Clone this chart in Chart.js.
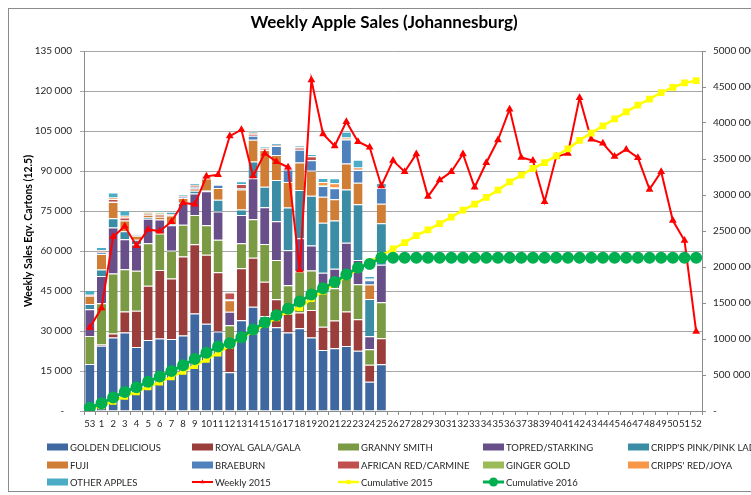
<!DOCTYPE html>
<html>
<head>
<meta charset="utf-8">
<script src="https://cdn.jsdelivr.net/npm/chart.js@4.4.1/dist/chart.umd.min.js"></script>
<style>
  html, body { margin: 0; padding: 0; background: #fff; }
</style>
</head>
<body>
<canvas id="salesChart" width="751" height="495"></canvas>
<script>
const weeks = ['53','1','2','3','4','5','6','7','8','9','10','11','12','13','14','15','16','17','18','19','20',
  '21','22','23','24','25','26','27','28','29','30','31','32','33','34','35','36','37','38','39','40',
  '41','42','43','44','45','46','47','48','49','50','51','52'];

// 2016 weekly sales by cultivar (weeks 53, 1..25)
const goldenDelicious = [17600,24500,27600,29400,24000,26600,27200,27000,28300,36600,32700,29800,14500,34000,39100,35600,31400,29400,31000,27600,22900,23500,24400,22600,11000,17500];
const royalGala = [0,400,1500,7900,13600,20400,25700,22700,29600,25900,25900,22200,12100,19500,18400,12900,10500,7200,5900,10300,8700,10400,12900,11800,6300,9800];
const grannySmith = [10500,15500,22500,15900,15000,15900,13700,10400,11900,11000,11100,12200,5600,9400,14400,14100,14700,10600,15400,14800,13500,12100,13700,13100,5900,13500];
const topred = [10100,10200,17200,11200,9800,9200,5200,9600,8100,8100,12700,10600,5000,10600,15400,13800,14600,13100,12500,9400,6700,7300,12100,9100,4800,14000];
const pinkLady = [1900,2500,3500,3000,1800,500,0,300,500,1000,300,4400,0,2100,6300,7700,15400,16000,18100,18600,18800,18100,20000,20900,14000,15600];
const fuji = [3100,5800,6100,4000,1500,1000,1000,3300,1500,800,4500,4400,4300,7500,8100,13800,9400,9600,10300,9400,9700,8000,9700,8100,5400,7300];
const braeburn = [0,500,100,0,0,0,0,200,300,600,300,1200,500,300,1500,0,3400,4700,4800,3900,4100,4100,9000,4800,1600,5900];
const africanRed = [200,700,1000,1200,200,300,900,200,300,400,0,0,2400,1700,800,300,300,300,800,1500,0,0,300,300,300,0];
const gingerGold = [0,0,0,0,0,300,700,0,0,0,0,0,0,0,0,0,0,0,0,0,300,300,0,0,0,0];
const crippsRed = [200,200,600,600,0,300,200,200,200,300,300,0,300,0,300,300,0,0,300,0,1200,1600,500,600,300,300];
const otherApples = [1800,1200,1800,2100,300,300,400,800,600,700,300,0,300,1100,800,600,600,600,600,900,1500,1900,2100,2900,1000,1600];

const weekly2015 = [31300,38600,65300,69300,62000,68100,67400,71000,78100,77500,88000,88600,103100,105500,88100,96600,93500,91400,52900,124100,
  103900,99400,108500,101000,98900,84400,93900,89700,96400,80400,86600,89700,96400,83900,93100,101600,113200,95100,93900,78500,
  95400,96600,117500,101900,100400,95400,98100,95000,83100,89700,71400,63900,29800];
const cumulative2015 = [31300,69900,135200,204500,266500,334600,402000,473000,551100,628600,716600,805200,908300,1013800,1101900,1198500,1292000,1383400,1436300,1560400,
  1664300,1763700,1872200,1973200,2072100,2156500,2250400,2340100,2436500,2516900,2603500,2693200,2789600,2873500,2966600,3068200,3181400,3276500,3370400,3448900,
  3544300,3640900,3758400,3860300,3960700,4056100,4154200,4249200,4332300,4422000,4493400,4557300,4587100];
const cumulative2016 = [45400,106900,188800,264100,330300,405100,480100,554800,636100,721500,809600,894400,939400,1025600,1130700,1229800,1330100,1421600,1521300,1617700,
  1705100,1792400,1897100,1991300,2041900,2127400,2127400,2127400,2127400,2127400,2127400,2127400,2127400,2127400,2127400,2127400,2127400,2127400,2127400,2127400,
  2127400,2127400,2127400,2127400,2127400,2127400,2127400,2127400,2127400,2127400,2127400,2127400,2127400];

const barSeries = [
  ['GOLDEN DELICIOUS', goldenDelicious, '#3F67A0'],
  ['ROYAL GALA/GALA', royalGala, '#9B3D3A'],
  ['GRANNY SMITH', grannySmith, '#7B9A44'],
  ['TOPRED/STARKING', topred, '#684F8A'],
  ["CRIPP'S PINK/PINK LADY", pinkLady, '#3B8DA5'],
  ['FUJI', fuji, '#D07D35'],
  ['BRAEBURN', braeburn, '#4F81BD'],
  ['AFRICAN RED/CARMINE', africanRed, '#C0504D'],
  ['GINGER GOLD', gingerGold, '#9BBB59'],
  ["CRIPPS' RED/JOYA", crippsRed, '#F79646'],
  ['OTHER APPLES', otherApples, '#4BACC6']
];

function fmtLeft(v) {
  if (v === 0) return '-   ';
  return Math.floor(v / 1000) + ' ' + String(v % 1000).padStart(3, '0');
}
function fmtRight(v) {
  if (v === 0) return '-';
  return Math.floor(v / 1000) + ' ' + String(v % 1000).padStart(3, '0');
}

const datasets = barSeries.map(([label, data, color]) => ({
  type: 'bar',
  label: label,
  data: data,
  backgroundColor: color,
  borderColor: 'rgba(255,255,255,0.55)',
  borderWidth: { top: 1 },
  borderSkipped: 'bottom',
  stack: 'cultivars',
  yAxisID: 'y',
  barPercentage: 0.78,
  categoryPercentage: 1.0,
  order: 3
}));

datasets.push({
  type: 'line', label: 'Weekly 2015', data: weekly2015, yAxisID: 'y', stack: 'weekly',
  borderColor: '#FF0000', backgroundColor: '#FF0000', borderWidth: 2,
  pointStyle: 'triangle', pointRadius: 2.5, tension: 0, order: 2
});
datasets.push({
  type: 'line', label: 'Cumulative 2015', data: cumulative2015, yAxisID: 'y1',
  borderColor: '#FFFF00', backgroundColor: '#FFFF00', borderWidth: 2.5,
  pointStyle: 'rect', pointRadius: 3, tension: 0, order: 1
});
datasets.push({
  type: 'line', label: 'Cumulative 2016', data: cumulative2016, yAxisID: 'y1',
  borderColor: '#00B050', backgroundColor: '#00B050', borderWidth: 3,
  pointStyle: 'circle', pointRadius: 4.5, tension: 0, order: 0
});

const frameAndTitle = {
  id: 'frameAndTitle',
  beforeDraw(chart) {
    const ctx = chart.ctx;
    ctx.save();
    ctx.fillStyle = '#fff';
    ctx.fillRect(0, 0, chart.width, chart.height);
    ctx.strokeStyle = '#8c8c8c';
    ctx.lineWidth = 1;
    ctx.strokeRect(8.5, 8.5, 800, 483);
    ctx.fillStyle = '#000';
    ctx.font = 'bold 17px Lato';
    ctx.textAlign = 'center';
    ctx.textBaseline = 'middle';
    ctx.fillText('Weekly Apple Sales (Johannesburg)', 384, 23);
    ctx.restore();
  }
};

const legendGrid = {
  id: 'legendGrid',
  afterDraw(chart) {
    const ctx = chart.ctx;
    const cols = [47, 192, 338, 483, 628];
    const rows = [447, 465, 482];
    ctx.save();
    ctx.font = '9.5px Lato';
    ctx.textBaseline = 'middle';
    ctx.textAlign = 'left';
    chart.data.datasets.forEach((ds, k) => {
      const x = cols[k % 5];
      const y = rows[Math.floor(k / 5)];
      if (ds.type === 'bar') {
        ctx.fillStyle = ds.backgroundColor;
        ctx.fillRect(x, y - 3.5, 21, 7);
      } else {
        ctx.strokeStyle = ds.borderColor;
        ctx.lineWidth = ds.borderWidth;
        ctx.beginPath();
        ctx.moveTo(x, y);
        ctx.lineTo(x + 21, y);
        ctx.stroke();
        ctx.fillStyle = ds.backgroundColor;
        Chart.helpers.drawPoint(ctx, { pointStyle: ds.pointStyle, radius: ds.pointRadius, rotation: 0, borderWidth: 0 }, x + 10.5, y);
      }
      ctx.fillStyle = '#262626';
      ctx.fillText(ds.label, x + 23, y + 0.5);
    });
    ctx.restore();
  }
};

Chart.defaults.font.family = 'Lato';
Chart.defaults.color = '#262626';

new Chart(document.getElementById('salesChart').getContext('2d'), {
  data: { labels: weeks, datasets: datasets },
  options: {
    responsive: false,
    animation: false,
    devicePixelRatio: 1,
    layout: { padding: { top: 51, left: 0, right: 0, bottom: 0 } },
    plugins: {
      legend: { display: false },
      title: { display: false },
      tooltip: { enabled: false }
    },
    scales: {
      x: {
        stacked: true,
        offset: true,
        grid: { drawOnChartArea: false, drawTicks: true, tickLength: 4, color: '#8c8c8c', offset: true },
        border: { color: '#8c8c8c' },
        ticks: { autoSkip: false, maxRotation: 0, minRotation: 0, padding: 3, font: { size: 9.5 } },
        afterFit(s) { s.height = 84; }
      },
      y: {
        stacked: true,
        position: 'left',
        min: 0,
        max: 135000,
        grid: { color: '#a6a6a6', tickLength: 4 },
        border: { color: '#8c8c8c' },
        ticks: { stepSize: 15000, padding: 8, font: { size: 10 }, callback: v => fmtLeft(v) },
        title: {
          display: true,
          text: 'Weekly Sales Eqv. Cartons (12.5)',
          font: { size: 10.5, weight: 'bold' },
          color: '#000',
          padding: { top: 22, bottom: 0 }
        },
        afterFit(s) { s.width = 84; }
      },
      y1: {
        stacked: false,
        position: 'right',
        min: 0,
        max: 5000000,
        grid: { drawOnChartArea: false, tickLength: 4, color: '#8c8c8c' },
        border: { color: '#8c8c8c' },
        ticks: { stepSize: 500000, padding: 7, font: { size: 10 }, callback: v => fmtRight(v) },
        afterFit(s) { s.width = 49; }
      }
    }
  },
  plugins: [frameAndTitle, legendGrid]
});
</script>
</body>
</html>
